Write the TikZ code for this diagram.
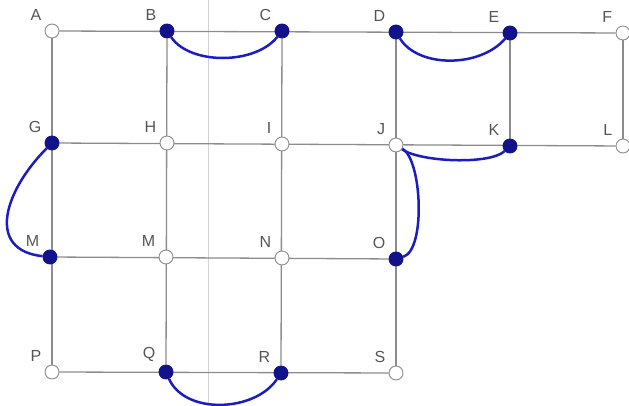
\documentclass[tikz,border=0pt]{standalone}
\usepackage{fontspec}
\setmainfont{Liberation Sans}
\usetikzlibrary{positioning, backgrounds}
\definecolor{gridgray}{HTML}{8C8C8C}
\definecolor{dotblue}{HTML}{12128A}
\definecolor{curveblue}{HTML}{1C1CC4}
\definecolor{labelgray}{HTML}{555555}

\begin{document}
\begin{tikzpicture}[x=1pt, y=-1pt, font=\fontsize{16}{16}\selectfont,
  gridline/.style={gridgray, line width=1.3pt},
  free/.style={circle, draw=gridgray, fill=white, line width=0.9pt, minimum size=14pt, inner sep=0pt},
  used/.style={circle, draw=dotblue, fill=dotblue, line width=0.9pt, minimum size=14pt, inner sep=0pt},
  tag/.style={text=labelgray, inner sep=0pt, label distance=7.5pt},
  link/.style={curveblue, line width=2.5pt}]
  \useasboundingbox (0,0) rectangle (629,406);

  % Vrcholy
  \foreach \n/\x/\y/\t/\s in {a/52/31/A/free, b/167/31/B/used, c/282/31/C/used,
      d/396/32/D/used, e/510/33/E/used, f/623/33/F/free,
      g/52/143/G/used, h/167/143/H/free, i/282/144/I/free,
      j/396/145/J/free, k/510/146/K/used, l/623/146/L/free,
      m1/50/257/M/used, m2/166/257/M/free, n/282/258/N/free, o/396/259/O/used,
      p/52/372/P/free, q/166/372/Q/used, r/281/373/R/used, s/396/373/S/free}
    \node[\s, label={[tag]135:\t}] (\n) at (\x,\y) {};

  % Mrizka
  \begin{scope}[on background layer]
    \draw[gray!35, line width=0.8pt] (208,0) -- (208,406);
    \draw[gridline] (a) -- (f);
    \draw[gridline] (g) -- (l);
    \draw[gridline] (m1) -- (o);
    \draw[gridline] (p) -- (s);
    \draw[gridline] (a) -- (p);
    \draw[gridline] (b) -- (q);
    \draw[gridline] (c) -- (r);
    \draw[gridline] (d) -- (s);
    \draw[gridline] (e) -- (k);
    \draw[gridline] (f) -- (l);
  \end{scope}

  % Oblouky
  \draw[link] (b) .. controls (190,65) and (255,65) .. (c);
  \draw[link] (d) .. controls (418,68) and (480,68) .. (e);
  \draw[link] (g) .. controls (5,190) and (-15,250) .. (m1);
  \draw[link] (j) .. controls (420,162) and (490,165) .. (k);
  \draw[link] (j) .. controls (422,160) and (426,250) .. (o);
  \draw[link] (q) .. controls (185,415) and (255,412) .. (r);
\end{tikzpicture}
\end{document}
